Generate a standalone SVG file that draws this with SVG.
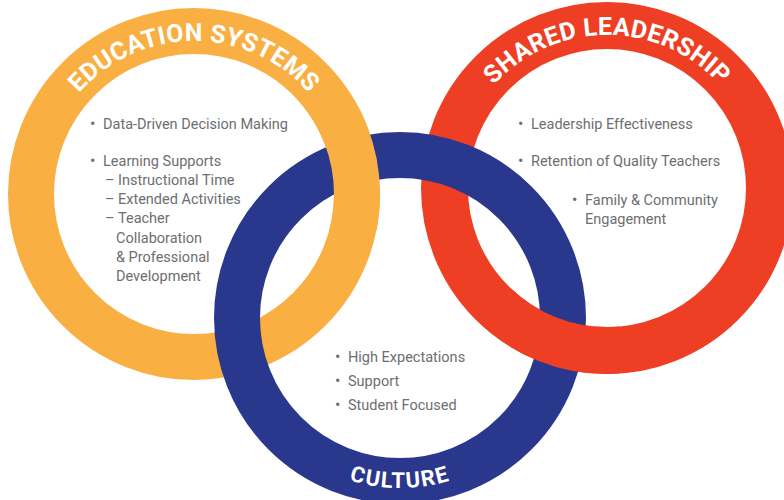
<svg xmlns="http://www.w3.org/2000/svg" width="784" height="500" viewBox="0 0 784 500">
<style>
.ring{fill:none}
.or{stroke:#F9AF42}
.rd{stroke:#EE3F25}
.bl{stroke:#29388D}
.lbl{font-family:Roboto,"Liberation Sans",sans-serif;font-weight:700;fill:#fff}
.body{font-family:Roboto,"Liberation Sans",sans-serif;font-size:14.5px;fill:#6D6E71}
.bu{font-size:16px}
</style>
<defs>
<path id="pEdu" d="M 41,194 A 153 153 0 0 1 347,194"/>
<path id="pLead" d="M 454,188 A 153 153 0 0 1 760,188"/>
<path id="pCul" d="M 230,318 A 170 170 0 0 0 570,318"/>
<clipPath id="cTopL"><rect x="300" y="100" width="110" height="130"/></clipPath>
<clipPath id="cBotR"><rect x="510" y="290" width="110" height="110"/></clipPath>
</defs>
<rect width="784" height="500" fill="#fff"/>
<g id="education-ring"><circle class="ring or" cx="194" cy="194" r="163" stroke-width="46"/></g>
<g id="leadership-ring"><circle class="ring rd" cx="607" cy="188" r="162.5" stroke-width="47"/></g>
<g id="culture-ring"><circle class="ring bl" cx="400" cy="318" r="163" stroke-width="46"/></g>
<g id="interlock">
<circle class="ring or" cx="194" cy="194" r="163" stroke-width="46" clip-path="url(#cTopL)"/>
<circle class="ring rd" cx="607" cy="188" r="162.5" stroke-width="47" clip-path="url(#cBotR)"/>
</g>
<g id="education">
<text class="lbl" font-size="25" letter-spacing="0.3"><textPath href="#pEdu" startOffset="50%" text-anchor="middle">EDUCATION SYSTEMS</textPath></text>
<text class="body">
<tspan class="bu" x="90" y="129">•</tspan><tspan x="103" y="129">Data-Driven Decision Making</tspan>
<tspan class="bu" x="90" y="166">•</tspan><tspan x="103" y="166">Learning Supports</tspan>
<tspan x="105" y="185">–</tspan><tspan x="118" y="185">Instructional Time</tspan>
<tspan x="105" y="204">–</tspan><tspan x="118" y="204">Extended Activities</tspan>
<tspan x="105" y="223">–</tspan><tspan x="118" y="223">Teacher</tspan>
<tspan x="116" y="243">Collaboration</tspan>
<tspan x="116" y="262">&amp; Professional</tspan>
<tspan x="116" y="281">Development</tspan>
</text>
</g>
<g id="leadership">
<text class="lbl" font-size="25" letter-spacing="0.3"><textPath href="#pLead" startOffset="50%" text-anchor="middle">SHARED LEADERSHIP</textPath></text>
<text class="body">
<tspan class="bu" x="518" y="129">•</tspan><tspan x="531" y="129">Leadership Effectiveness</tspan>
<tspan class="bu" x="518" y="166">•</tspan><tspan x="531" y="166">Retention of Quality Teachers</tspan>
<tspan class="bu" x="572" y="205">•</tspan><tspan x="585" y="205">Family &amp; Community</tspan>
<tspan x="585" y="224">Engagement</tspan>
</text>
</g>
<g id="culture">
<text class="lbl" font-size="22" letter-spacing="1.5"><textPath href="#pCul" startOffset="50%" text-anchor="middle">CULTURE</textPath></text>
<text class="body">
<tspan class="bu" x="335" y="362">•</tspan><tspan x="348" y="362">High Expectations</tspan>
<tspan class="bu" x="335" y="386">•</tspan><tspan x="348" y="386">Support</tspan>
<tspan class="bu" x="335" y="410">•</tspan><tspan x="348" y="410">Student Focused</tspan>
</text>
</g>
</svg>
